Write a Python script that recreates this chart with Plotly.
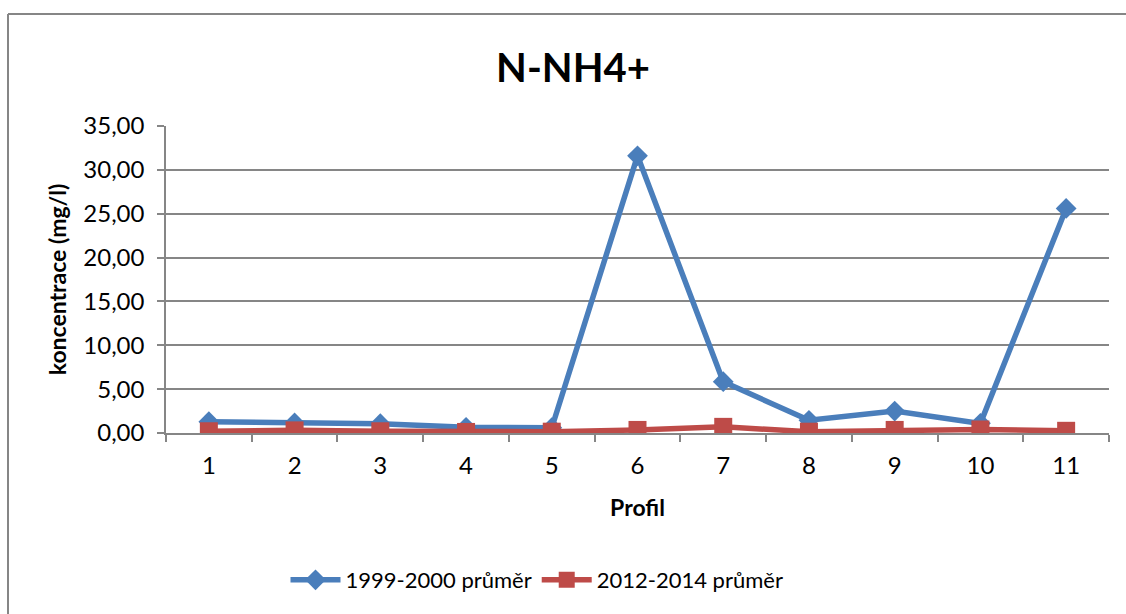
import plotly.graph_objects as go

# Profiles along the river
profiles = ["1", "2", "3", "4", "5", "6", "7", "8", "9", "10", "11"]

# Mean N-NH4+ concentration (mg/l)
avg_1999_2000 = [1.28, 1.15, 1.06, 0.65, 0.6, 31.6, 5.85, 1.45, 2.5, 1.1, 25.6]
avg_2012_2014 = [0.2, 0.3, 0.2, 0.12, 0.15, 0.35, 0.7, 0.15, 0.35, 0.4, 0.25]

series_names = ["1999-2000 průměr", "2012-2014 průměr"]

BLUE = "#4A7EBB"
RED = "#BE4B48"
GRID = "#868686"
FONT = "Lato"

fig = go.Figure()
fig.add_trace(go.Scatter(
    x=profiles, y=avg_1999_2000, name=series_names[0], mode="lines+markers",
    line=dict(color=BLUE, width=5.5),
    marker=dict(symbol="diamond", size=16, color=BLUE),
))
fig.add_trace(go.Scatter(
    x=profiles, y=avg_2012_2014, name=series_names[1], mode="lines+markers",
    line=dict(color=RED, width=5.5),
    marker=dict(symbol="square", size=18, color=RED),
))

# Plot area geometry in pixels
L, R, T, B = 166, 1109, 126, 433
W, H = 1126, 614
pw, ph = R - L, B - T


def px_x(x):
    return (x - L) / pw


def px_y(y):
    return (B - y) / ph


# Outer chart frame (left and top edges)
fig.add_shape(type="line", xref="paper", yref="paper",
              x0=px_x(8), x1=px_x(8), y0=px_y(14), y1=px_y(700),
              line=dict(color=GRID, width=2))
fig.add_shape(type="line", xref="paper", yref="paper",
              x0=px_x(8), x1=px_x(1200), y0=px_y(14), y1=px_y(14),
              line=dict(color=GRID, width=2))

fig.update_layout(
    width=W, height=H,
    margin=dict(l=L, r=W - R, t=T, b=H - B),
    paper_bgcolor="white", plot_bgcolor="white",
    separators=", ",
    font=dict(family=FONT, color="#000000", size=24),
    title=dict(text="<b>N-NH4+</b>", x=573 / W, xanchor="center",
               y=1 - 68 / H, yanchor="middle",
               font=dict(family=FONT, size=40, color="#000000")),
    xaxis=dict(
        type="category", range=[-0.5, len(profiles) - 0.5],
        tickson="boundaries", ticks="outside", ticklen=7,
        tickcolor=GRID, tickwidth=1.5, showline=True, linecolor=GRID, linewidth=1.5,
        showgrid=False, tickfont=dict(size=24), zeroline=False, automargin=False,
        ticklabelstandoff=10,
        title=dict(text="<b>Profil</b>", font=dict(size=23), standoff=22),
    ),
    yaxis=dict(
        range=[0, 35], dtick=5, tickformat=".2f", ticks="outside", ticklen=7,
        tickcolor=GRID, tickwidth=1.5, showline=True, linecolor=GRID, linewidth=1.5,
        showgrid=True, gridcolor=GRID, gridwidth=1.5, zeroline=False,
        tickfont=dict(size=24), automargin=False, ticklabelstandoff=8,
        title=dict(text="<b>koncentrace (mg/l)</b>", font=dict(size=23), standoff=10),
    ),
    legend=dict(orientation="h", x=px_x(537), xanchor="center",
                y=px_y(580), yanchor="middle",
                font=dict(size=22), itemwidth=50, bgcolor="rgba(0,0,0,0)"),
    showlegend=True,
)

fig.write_html("out.html")
